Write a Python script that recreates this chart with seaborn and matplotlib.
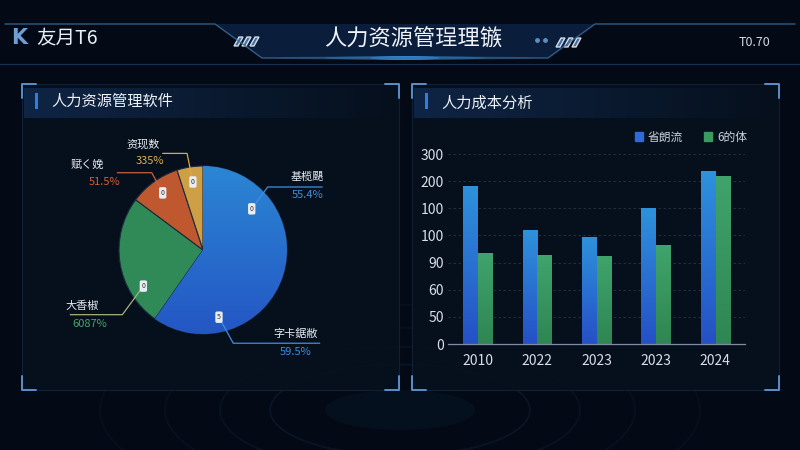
import numpy as np
import pandas as pd
import matplotlib
matplotlib.use("Agg")
import matplotlib.pyplot as plt
import seaborn as sns
from matplotlib.patches import Rectangle, Polygon, Ellipse, Patch

# ---- data ----
years = ["2010", "2022", "2023", "2023", "2024"]
series_names = ["省朗流", "6的体"]
blue_vals = [292, 210, 198, 251, 318]
green_vals = [167, 164, 163, 183, 310]
ytick_labels = ["0", "50", "60", "90", "100", "100", "200", "300"]

pie_names = ["蓝", "绿", "橙", "黄"]
pie_vals = [59.7, 25.5, 9.8, 5.0]
pie_colors = ["#2a6ccd", "#2f8a58", "#c0582f", "#cf9f45"]

label_names = ["基榄颶", "字卡鋸敝", "大香椒", "赋く娩", "资现数"]
label_pcts = ["55.4%", "59.5%", "6087%", "51.5%", "335%"]
label_slice = [0, 0, 1, 2, 3]
label_marks = ["0", "5", "0", "0", "0"]

BG = "#040a15"
sns.set_theme(style="dark")
plt.rcParams['font.family'] = ['Noto Sans CJK SC', 'DejaVu Sans']

fig = plt.figure(figsize=(8, 4.5), dpi=100, facecolor=BG)

# background canvas in pixel coords
bg = fig.add_axes([0, 0, 1, 1], zorder=-5)
bg.set_xlim(0, 800)
bg.set_ylim(450, 0)
bg.axis("off")
bg.set_facecolor(BG)

# faint rings bottom center
for w, a in [(260, 0.10), (360, 0.08), (470, 0.06), (600, 0.05)]:
    bg.add_patch(Ellipse((400, 410), w, w * 0.35, fill=False, ec="#3a7fc0", lw=1.2, alpha=a))
bg.add_patch(Ellipse((400, 410), 150, 40, color="#1d5fa0", alpha=0.08, lw=0))

# header
tab = [(215, 24), (262, 58), (548, 58), (595, 24)]
bg.add_patch(Polygon(tab, closed=True, fc="#0c2446", ec="none", alpha=0.8))
hx = [5, 215, 262, 548, 595, 795]
hy = [24, 24, 58, 58, 24, 24]
bg.plot(hx, hy, color="#3d6e9e", lw=1.0, alpha=0.8)
bg.plot([0, 800], [64, 64], color="#16304f", lw=0.8)
for i in range(3):
    x0 = 234 + i * 8
    bg.add_patch(Polygon([(x0, 46), (x0 + 4, 46), (x0 + 9, 37), (x0 + 5, 37)], fc="#4f86c4", alpha=0.8))
    x1 = 556 + i * 8
    bg.add_patch(Polygon([(x1, 47), (x1 + 4, 47), (x1 + 9, 38), (x1 + 5, 38)], fc="#4f86c4", alpha=0.8))
bg.scatter([537, 545], [40, 40], s=6, color="#5a8fc8")
for w, a in [(260, 0.15), (160, 0.3), (70, 0.6)]:
    bg.add_patch(Ellipse((405, 58), w, 4, color="#3aa6ff", alpha=a, lw=0))

bg.text(19, 38, "K", color="#6d9fd4", fontsize=15, fontweight="heavy", ha="center", va="center", family="DejaVu Sans")
bg.text(36, 38, "友月T6", color="#e8eef6", fontsize=14, ha="left", va="center")
bg.text(413, 39, "人力资源管珵理镞", color="#f0f4fa", fontsize=16, ha="center", va="center")
bg.text(770, 43, "T0.70", color="#d0d8e2", fontsize=9, ha="right", va="center")

# panels
for (x0, y0, x1, y1) in [(22, 84, 399, 390), (412, 84, 779, 390)]:
    bg.add_patch(Rectangle((x0, y0), x1 - x0, y1 - y0, fc="#07101d", ec="#12243a", lw=0.8, alpha=0.9))
    grad = np.linspace(1, 0, 256).reshape(1, -1)
    bg.imshow(grad, extent=(x0 + 2, x1 - 2, y0 + 34, y0 + 4), cmap=matplotlib.colors.LinearSegmentedColormap.from_list("h", ["#07101d", "#10284a"]),
              aspect="auto", alpha=0.9, zorder=1)
    bg.add_patch(Rectangle((x0 + 13, y0 + 9), 3, 16, fc="#2f7de0", ec="none", zorder=2))
    L = 14
    for cx, cy, dx, dy in [(x0, y0, 1, 1), (x1, y0, -1, 1), (x0, y1, 1, -1), (x1, y1, -1, -1)]:
        bg.plot([cx + dx * L, cx, cx], [cy, cy, cy + dy * L], color="#5c8fc8", lw=1.4, zorder=3)
bg.set_xlim(0, 800)
bg.set_ylim(450, 0)
bg.text(51, 101, "人力资源管理软件", color="#eef2f8", fontsize=11, ha="left", va="center", zorder=4)
bg.text(441, 103, "人力成本分析", color="#eef2f8", fontsize=11, ha="left", va="center", zorder=4)

# ---- pie ----
R = 84
cx, cy = 203, 250
pl, pr, pt, pb = 40, 370, 130, 370
pax = fig.add_axes([pl / 800, 1 - pb / 450, (pr - pl) / 800, (pb - pt) / 450])
pax.axis("off")
wedges, _ = pax.pie(pie_vals, colors=pie_colors, startangle=90, counterclock=False,
                    radius=1, wedgeprops=dict(edgecolor="#1a2a40", linewidth=0.8))
pax.set_xlim((pl - cx) / R, (pr - cx) / R)
pax.set_ylim((cy - pb) / R, (cy - pt) / R)
pax.set_aspect("equal")
# blue wedge gradient
g = np.linspace(0, 1, 256).reshape(-1, 1)
cm_b = matplotlib.colors.LinearSegmentedColormap.from_list("b", ["#2456c4", "#2b86d4"])
im = pax.imshow(g, extent=(-1, 1, -1, 1), origin="lower", cmap=cm_b, aspect="auto", zorder=1.5)
im.set_clip_path(wedges[0])
pax.set_xlim((pl - cx) / R, (pr - cx) / R)
pax.set_ylim((cy - pb) / R, (cy - pt) / R)

# label layout (anchor, elbow, end, name pos, pct pos) in pie units
layout = [
    ((0.58, 0.49), (0.77, 0.75), (1.42, 0.75), (1.24, 0.87), (1.25, 0.66)),
    ((0.19, -0.80), (0.36, -1.11), (1.39, -1.11), (1.10, -1.00), (1.10, -1.21)),
    ((-0.71, -0.43), (-0.96, -0.77), (-1.58, -0.77), (-1.44, -0.67), (-1.35, -0.88)),
    ((-0.48, 0.68), (-0.61, 0.92), (-1.02, 0.92), (-1.38, 1.02), (-1.17, 0.81)),
    ((-0.12, 0.81), (-0.19, 1.15), (-0.48, 1.15), (-0.71, 1.26), (-0.63, 1.06)),
]
pct_colors = ["#3f8fe0", "#3f8fe0", "#45a865", "#d0603a", "#e0b050"]
line_colors = ["#3f8fe0", "#3f8fe0", "#a9b27a", "#c86040", "#d8aa50"]
for i, (a, e, t, npos, ppos) in enumerate(layout):
    pax.plot([a[0], e[0], t[0]], [a[1], e[1], t[1]], color=line_colors[i], lw=0.9, zorder=3)
    pax.text(a[0], a[1], label_marks[i], fontsize=5, color="#333", ha="center", va="center", zorder=4,
             bbox=dict(boxstyle="round,pad=0.25", fc="#e8eef4", ec="none"))
    pax.text(npos[0], npos[1], label_names[i], fontsize=8, color="#e6ebf2", ha="center", va="center")
    pax.text(ppos[0], ppos[1], label_pcts[i], fontsize=8, color=pct_colors[i], ha="center", va="center")

# ---- bars ----
df = pd.DataFrame({
    "slot": [f"s{i}" for i in range(len(years))] * 2,
    "series": [series_names[0]] * len(years) + [series_names[1]] * len(years),
    "value": blue_vals + green_vals,
})
bax = fig.add_axes([448 / 800, 106 / 450, 297 / 800, 191 / 450])
bax.set_facecolor("none")
sns.barplot(data=df, x="slot", y="value", hue="series", palette=["#2a6fd0", "#3a9a60"],
            width=0.5, gap=0.05, ax=bax, legend=False, saturation=1)
bax.set_xlim(-0.5, 4.5)
bax.set_ylim(0, 352)
bax.set_yticks(np.arange(0, 351, 50))
bax.set_yticklabels(ytick_labels)
bax.set_xticks(range(len(years)))
bax.set_xticklabels(years)
bax.set_xlabel("")
bax.set_ylabel("")
bax.tick_params(axis="both", colors="#d8dee8", labelsize=10, length=0)
bax.tick_params(axis="x", pad=7)
bax.tick_params(axis="y", pad=3)
for s in ["top", "right", "left"]:
    bax.spines[s].set_visible(False)
bax.spines["bottom"].set_color("#7d8ea4")
bax.spines["bottom"].set_linewidth(0.9)
for yv in np.arange(50, 351, 50):
    bax.axhline(yv, color="#3c4c62", lw=0.6, ls=(0, (3, 3)), alpha=0.6, zorder=0)

cm_blue = matplotlib.colors.LinearSegmentedColormap.from_list("bb", ["#2550c6", "#2e92dc"])
cm_green = matplotlib.colors.LinearSegmentedColormap.from_list("gg", ["#2f8652", "#40a46c"])
n = len(years)
for k, p in enumerate(bax.patches[:2 * n]):
    x0, y0 = p.get_x(), p.get_y()
    w, h = p.get_width(), p.get_height()
    cmap = cm_blue if k < n else cm_green
    img = bax.imshow(g, extent=(x0, x0 + w, y0, y0 + h), origin="lower", cmap=cmap, aspect="auto", zorder=2)
    img.set_clip_path(p)
    p.set_alpha(0.0)
bax.set_xlim(-0.5, 4.5)
bax.set_ylim(0, 352)

handles = [Patch(color="#2f6ad8"), Patch(color="#3a9a60")]
fig.legend(handles, series_names, loc="center left", bbox_to_anchor=(624 / 800, 1 - 137 / 450),
           ncol=2, frameon=False, fontsize=8.5, labelcolor="#c8d0dc", handlelength=0.7,
           handleheight=0.7, handletextpad=0.4, columnspacing=1.8)

fig.savefig("out.png", dpi=100, facecolor=BG)
